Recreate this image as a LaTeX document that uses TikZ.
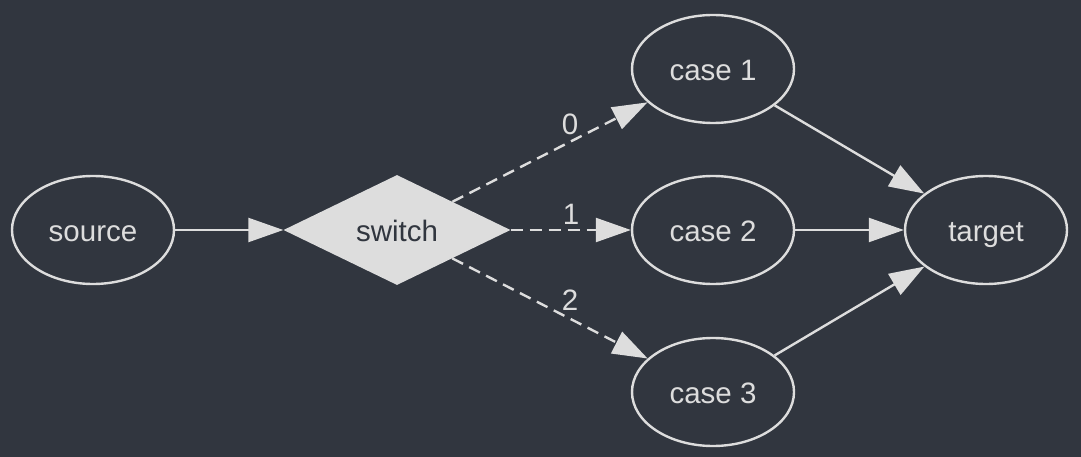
\documentclass[tikz,border=0pt]{standalone}
\usepackage{fontspec}
\setmainfont{Liberation Sans}
\usetikzlibrary{shapes.geometric,arrows.meta}
\definecolor{bg}{HTML}{31363F}
\definecolor{fg}{HTML}{DDDDDD}
\begin{document}
\begin{tikzpicture}[x=1pt,y=-1pt,
  txt/.style={font=\fontsize{29.5}{34}\selectfont,text height=27pt,text depth=4pt},
  ell/.style={ellipse,draw=fg,line width=2.4pt,minimum width=162pt,minimum height=108pt,inner sep=0pt,text=fg,txt},
  dia/.style={diamond,fill=fg,aspect=2.06,minimum width=227pt,minimum height=110pt,inner sep=0pt,text=bg,txt},
  conn/.style={draw=fg,line width=2.4pt,-{Triangle[length=35pt,width=24pt]}},
  dconn/.style={conn,dash pattern=on 12pt off 7pt},
  lbl/.style={text=fg,inner sep=0pt,txt}]
\fill[bg] (0,0) rectangle (1081,457);
\useasboundingbox (0,0) rectangle (1081,457);
\node[ell] (source) at (93,230) {source};
\node[dia] (switch) at (397,230) {switch};
\node[ell] (case1) at (713,69) {case 1};
\node[ell] (case2) at (713,230) {case 2};
\node[ell] (case3) at (713,392) {case 3};
\node[ell] (target) at (986,230) {target};
\draw[conn] (source) -- (switch);
\draw[dconn] (switch) -- (case1);
\draw[dconn] (switch) -- (case2);
\draw[dconn] (switch) -- (case3);
\draw[conn] (case1) -- (target);
\draw[conn] (case2) -- (target);
\draw[conn] (case3) -- (target);
\node[lbl] (l0) at (570,123) {0};
\node[lbl] (l1) at (571,213) {1};
\node[lbl] (l2) at (570,299) {2};
\end{tikzpicture}
\end{document}
